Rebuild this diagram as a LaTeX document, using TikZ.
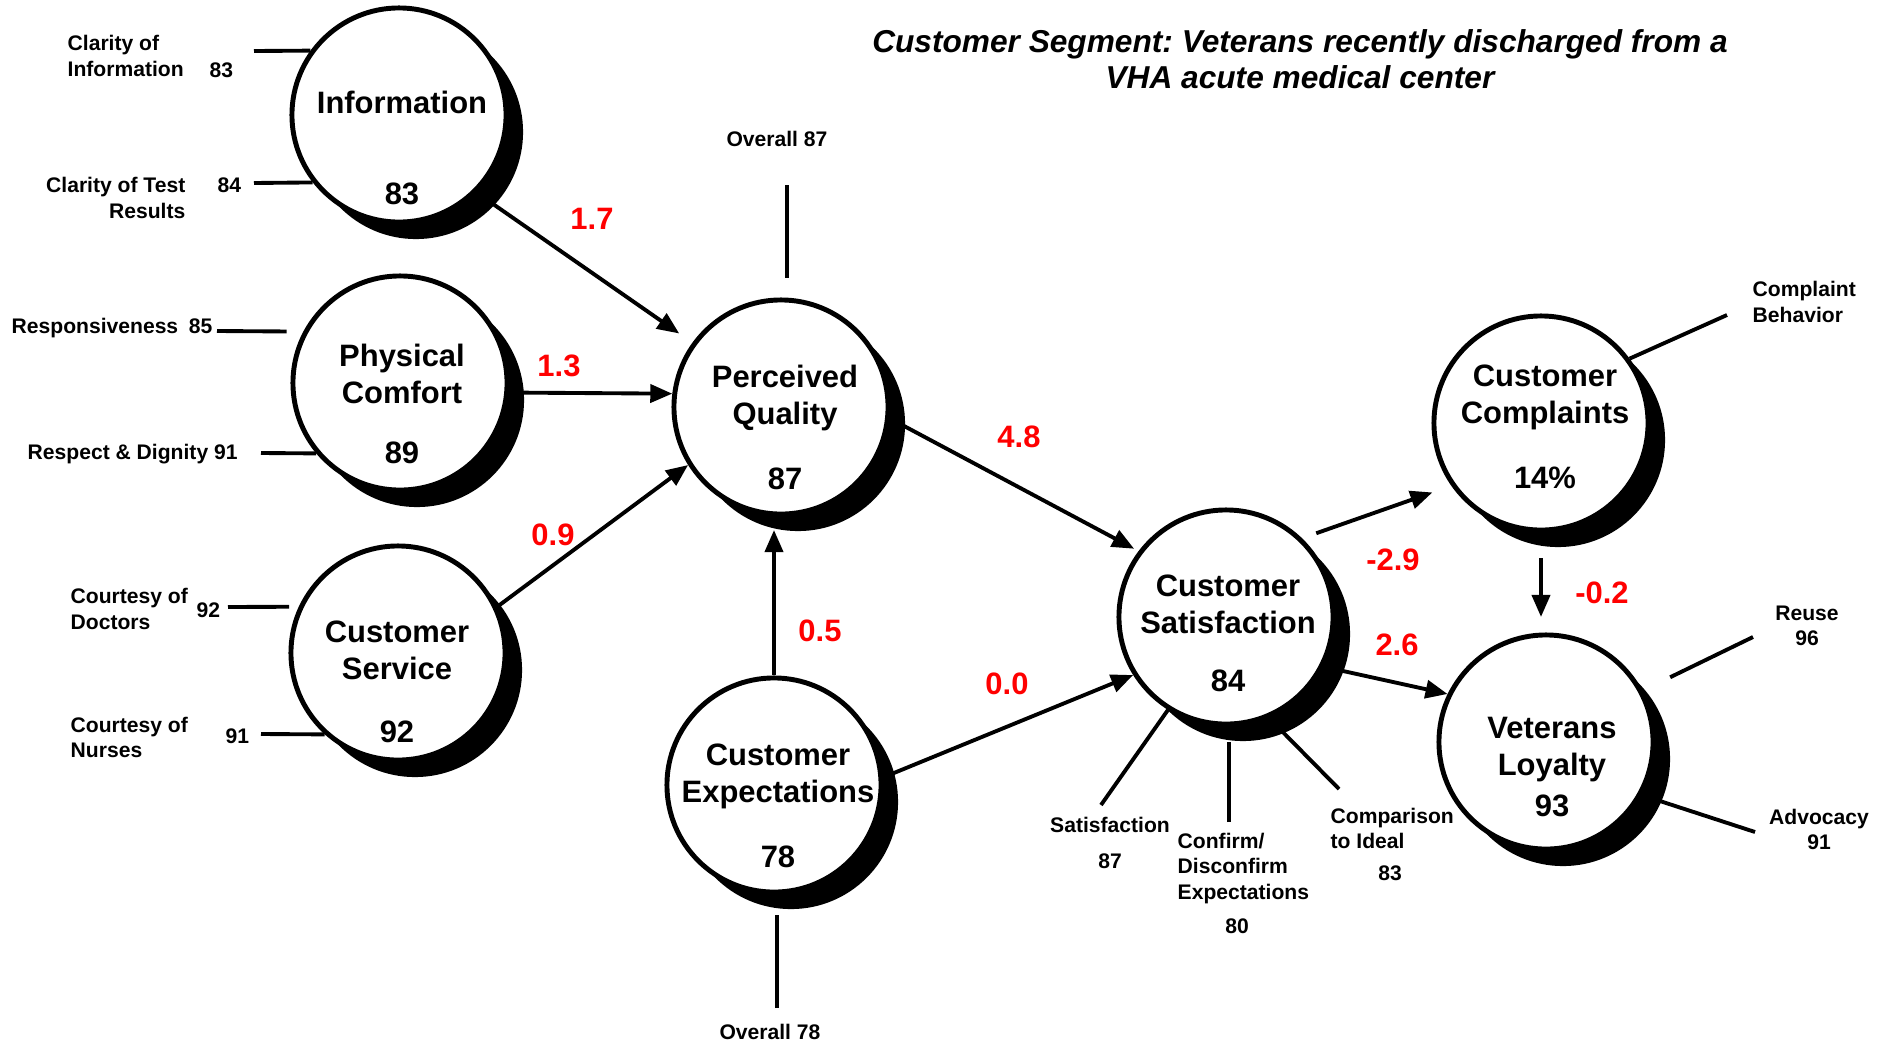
\documentclass[tikz,border=0pt]{standalone}
\usepackage{fontspec}
\setmainfont{Liberation Sans}
\frenchspacing
\usetikzlibrary{arrows.meta}
\usetikzlibrary{shadows}
\tikzset{
	factor/.style={
		circle, draw, line width=1.4pt, fill=white, minimum size=2.14cm, inner sep=0pt,
		drop shadow={shadow xshift=0.17cm, shadow yshift=-0.17cm, opacity=1, fill=black}
	},
	ftext/.style={align=center, inner sep=0pt, font=\fontsize{8.8}{10.5}\selectfont\bfseries}
}

\begin{document}
\begin{tikzpicture}[x=0.01cm, y=-0.01cm, >={Triangle[length=0.22cm, width=0.18cm]},
	link/.style={->, line width=1.1pt},
	ind/.style={line width=1.1pt},
	coef/.style={text=red, inner sep=0pt, font=\fontsize{8.8}{10.5}\selectfont\bfseries},
	lbl/.style={inner sep=0pt, font=\fontsize{6}{7.3}\selectfont\bfseries},
	heading/.style={align=center, inner sep=0pt, font=\fontsize{9}{10.2}\selectfont\bfseries\itshape}]

	\useasboundingbox (0,0) rectangle (1893,1045);

	\node[heading] (seg) at (1300,59) {Customer Segment: Veterans recently discharged from a\\VHA acute medical center};

	% latent variables
	\node[factor] (info)	at (399,115)	{};
	\node[factor] (pc)	at (400,383)	{};
	\node[factor] (serv)	at (398,653)	{};
	\node[factor] (pq)	at (781,407)	{};
	\node[factor] (ce)	at (774,785)	{};
	\node[factor] (csat)	at (1226,617)	{};
	\node[factor] (comp)	at (1541,423)	{};
	\node[factor] (vl)	at (1546,742)	{};

	\node[ftext] (info-t)	at (402,148)	{Information\\[15.6pt]83};
	\node[ftext] (pc-t)	at (402,404)	{Physical\\Comfort\\[6.8pt]89};
	\node[ftext] (serv-t)	at (397,682)	{Customer\\Service\\[7.4pt]92};
	\node[ftext] (pq-t)	at (785,427)	{Perceived\\Quality\\[8pt]87};
	\node[ftext] (ce-t)	at (778,806)	{Customer\\Expectations\\[8pt]78};
	\node[ftext] (csat-t)	at (1228,633)	{Customer\\Satisfaction\\[6pt]84};
	\node[ftext] (comp-t)	at (1545,427)	{Customer\\Complaints\\[8pt]14\%};
	\node[ftext] (vl-t)	at (1552,767)	{Veterans\\Loyalty\\[1.4pt]93};

	% paths
	\draw[link, shorten >=0.16cm] (info.-45) -- (pq.144);
	\draw[link] (pc.-5) -- (pq.173);
	\draw[link] (serv.25) -- (pq.212);
	\draw[link, shorten >=0.135cm] (ce.north) -- (ce.north |- pq.south);
	\draw[link, shorten >=0.05cm] (pq.-6) -- (csat.143);
	\draw[link] (ce.4) -- (csat.212);
	\draw[link, shorten <=0.15cm, shorten >=0.2cm] (csat.46) -- (comp.215);
	\draw[link] (csat.-27) -- (vl.154);
	\draw[link, shorten <=0.255cm, shorten >=0.155cm] (comp.south) -- (comp.south |- vl.north);

	\node[coef] (w1) at (592,219) {1.7};
	\node[coef] (w2) at (559,366) {1.3};
	\node[coef] (w3) at (553,535) {0.9};
	\node[coef] (w4) at (820,631) {0.5};
	\node[coef] (w5) at (1019,437) {4.8};
	\node[coef] (w6) at (1007,684) {0.0};
	\node[coef] (w7) at (1393,560) {-2.9};
	\node[coef] (w8) at (1397,645) {2.6};
	\node[coef] (w9) at (1602,593) {-0.2};

	% indicators
	\node[lbl, anchor=north west, align=left] (i1-t) at (67,35) {Clarity of\\Information};
	\node[lbl, anchor=base west] (i1-v) at (209,77) {83};
	\node[lbl, anchor=north east, align=right] (i2-t) at (186,177) {Clarity of Test\\Results};
	\node[lbl, anchor=base west] (i2-v) at (217,192) {84};
	\node[lbl, anchor=base west] (p1-t) at (11,333) {Responsiveness\enspace 85};
	\node[lbl, anchor=base west] (p2-t) at (27,459) {Respect \& Dignity 91};
	\node[lbl, anchor=north west, align=left] (s1-t) at (70,588) {Courtesy of\\Doctors};
	\node[lbl, anchor=base west] (s1-v) at (196,617) {92};
	\node[lbl, anchor=north west, align=left] (s2-t) at (70,716) {Courtesy of\\Nurses};
	\node[lbl, anchor=base west] (s2-v) at (225,743) {91};

	\node[lbl, anchor=base] (g1-t) at (777,146) {Overall 87};
	\node[lbl, anchor=base] (h1-t) at (770,1039) {Overall 78};

	\node[lbl, anchor=base] (c1-t) at (1110,832) {Satisfaction};
	\node[lbl, anchor=base] (c1-v) at (1110,868) {87};
	\node[lbl, anchor=north west, align=left] (c2-t) at (1177,832) {Confirm/\\Disconfirm\\Expectations};
	\node[lbl, anchor=base] (c2-v) at (1237,933) {80};
	\node[lbl, anchor=north west, align=left] (c3-t) at (1330,807) {Comparison\\to Ideal};
	\node[lbl, anchor=base] (c3-v) at (1390,880) {83};

	\node[lbl, anchor=north west, align=left] (k1-t) at (1752,281) {Complaint\\Behavior};
	\node[lbl, anchor=north, align=center] (v1-t) at (1807,605) {Reuse\\96};
	\node[lbl, anchor=north, align=center] (v2-t) at (1819,808) {Advocacy\\91};

	\coordinate (i1) at (254,51);
	\coordinate (i2) at (254,183);
	\coordinate (p1) at (217,331);
	\coordinate (p2) at (261,453);
	\coordinate (s1) at (228,607);
	\coordinate (s2) at (261,734);
	\coordinate (g1) at (787,185);
	\coordinate (h1) at (777,1008);
	\coordinate (c1) at (1101,805);
	\coordinate (c2) at (1229,822);
	\coordinate (c3) at (1339,789);
	\coordinate (k1) at (1727,315);
	\coordinate (v1) at (1753,637);
	\coordinate (v2) at (1755,832);

	\draw[ind] (i1) -- (info.144);
	\draw[ind] (i2) -- (info.218);
	\draw[ind, shorten >=0.166cm] (p1) -- (pc.152);
	\draw[ind] (p2) -- (pc.220);
	\draw[ind, shorten >=0.096cm] (s1) -- (serv.155);
	\draw[ind] (s2) -- (serv.228);
	\draw[ind, shorten >=0.195cm] (g1) -- (g1 |- pq.north);
	\draw[ind, shorten >=0.205cm] (h1) -- (h1 |- ce.south);
	\draw[ind] (c1) -- (csat.238);
	\draw[ind, shorten >=0.155cm] (c2) -- (c2 |- csat.south);
	\draw[ind] (c3) -- (csat.-67);
	\draw[ind] (k1) -- (comp.36);
	\draw[ind, shorten >=0.305cm] (v1) -- (vl.28);
	\draw[ind] (v2) -- (vl.-29);

\end{tikzpicture}
\end{document}
